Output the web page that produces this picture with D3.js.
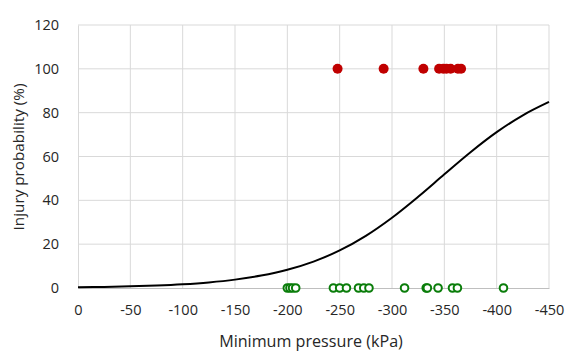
<!DOCTYPE html>
<html><head><meta charset="utf-8">
<script src="https://cdn.jsdelivr.net/npm/d3@7"></script>
<style>body{margin:0;background:#fff}svg{display:block}text{font-family:"Open Sans",sans-serif;fill:#262626}</style>
</head><body><svg id="c" width="569" height="352"></svg>
<script>
const xTicks = [0,-50,-100,-150,-200,-250,-300,-350,-400,-450];
const yTicks = [0,20,40,60,80,100,120];
const injuredPressure = [-248,-292,-330,-345,-349,-352,-356,-363,-366];
const uninjuredPressure = [-200,-202.5,-205,-208,-244,-250,-256.5,-268,-273,-278,-312,-332.7,-333.8,-344,-357.8,-362.5,-406.5];
const curvePressure = [0,-25,-50,-75,-100,-125,-150,-175,-200,-225,-250,-275,-300,-325,-350,-375,-400,-425,-450];
const curveProb = [0.33,0.50,0.76,1.14,1.71,2.56,3.82,5.67,8.32,12.05,17.15,23.82,32.08,41.64,51.87,61.95,71.10,78.80,84.88];

const svg = d3.select("#c");
const m = {l:78, r:20, t:25, b:64};
const W = 569, H = 352;
const x = d3.scaleLinear().domain([0,-450]).range([m.l, W-m.r]);
const y = d3.scaleLinear().domain([0,120]).range([H-m.b, m.t]);

function fit(sel, target){
  const n = sel.node(); const w = n.getComputedTextLength();
  const fs = parseFloat(sel.style("font-size"));
  sel.style("font-size", (fs*target/w)+"px");
}

// gridlines
svg.append("g").selectAll("line").data(yTicks.filter(d=>d>0)).join("line")
  .attr("x1", x(0)).attr("x2", x(-450)).attr("y1", d=>y(d)).attr("y2", d=>y(d))
  .attr("stroke","#d9d9d9").attr("stroke-width",1);
svg.append("g").selectAll("line").data(xTicks.filter(d=>d!==0)).join("line")
  .attr("y1", y(0)).attr("y2", y(120)).attr("x1", d=>x(d)).attr("x2", d=>x(d))
  .attr("stroke","#d9d9d9").attr("stroke-width",1);

// axes
const xa = svg.append("g").attr("transform",`translate(0,${y(0)})`)
  .call(d3.axisBottom(x).tickValues(xTicks).tickSize(0).tickPadding(17).tickFormat(d=>String(d)));
xa.select(".domain").attr("stroke","#bfbfbf");
xa.selectAll("text").style("font-size","14.5px").attr("fill","#262626").attr("font-family",null);
const ya = svg.append("g").attr("transform",`translate(${x(0)},0)`)
  .call(d3.axisLeft(y).tickValues(yTicks).tickSize(0).tickPadding(19).tickFormat(d=>String(d)));
ya.select(".domain").attr("stroke","#d9d9d9");
ya.selectAll("text").style("font-size","14.5px").attr("fill","#262626").attr("font-family",null);

// curve
svg.append("path").datum(curvePressure.map((p,i)=>[p,curveProb[i]]))
  .attr("fill","none").attr("stroke","#000").attr("stroke-width",2)
  .attr("d", d3.line().x(d=>x(d[0])).y(d=>y(d[1])).curve(d3.curveCatmullRom));

// points
svg.append("g").selectAll("circle").data(uninjuredPressure).join("circle")
  .attr("cx", d=>x(d)).attr("cy", y(0)).attr("r",3.8)
  .attr("fill","#fff").attr("stroke","#0a7d0a").attr("stroke-width",2);
svg.append("g").selectAll("circle").data(injuredPressure).join("circle")
  .attr("cx", d=>x(d)).attr("cy", y(100)).attr("r",5)
  .attr("fill","#c00000");

// titles
const xt = svg.append("text").attr("x", 311).attr("y", 347).attr("text-anchor","middle")
  .style("font-size","14px").text("Minimum pressure (kPa)");
fit(xt, 184);
const yt = svg.append("text").attr("transform",`translate(24,157) rotate(-90)`).attr("text-anchor","middle")
  .style("font-size","14px").text("Injury probability (%)");
fit(yt, 147);
</script></body></html>
